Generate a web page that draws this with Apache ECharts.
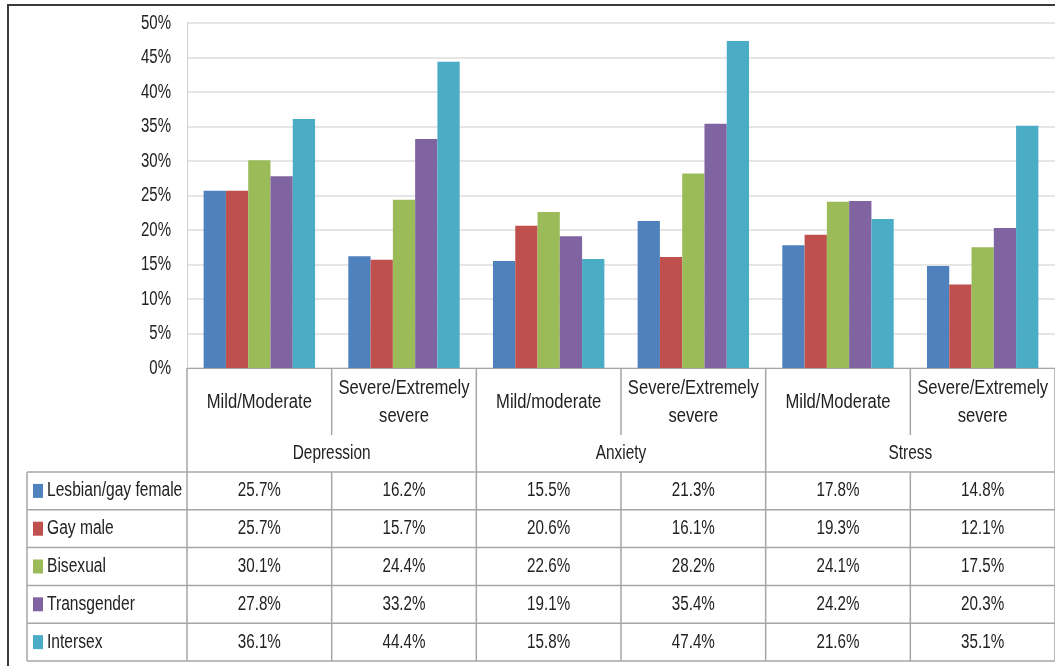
<!DOCTYPE html>
<html><head><meta charset="utf-8">
<script src="https://cdn.jsdelivr.net/npm/echarts@6/dist/echarts.min.js"></script>
<style>html,body{margin:0;padding:0;background:#fff}#c{width:1055px;height:666px}</style>
</head><body><div id="c"></div>
<script>
const categories = ['Mild/Moderate', 'Severe/Extremely\nsevere', 'Mild/moderate', 'Severe/Extremely\nsevere', 'Mild/Moderate', 'Severe/Extremely\nsevere'];
const groups = ['Depression', 'Anxiety', 'Stress'];
const seriesNames = ['Lesbian/gay female', 'Gay male', 'Bisexual', 'Transgender', 'Intersex'];
const lesbianGayFemale = [25.7, 16.2, 15.5, 21.3, 17.8, 14.8];
const gayMale = [25.7, 15.7, 20.6, 16.1, 19.3, 12.1];
const bisexual = [30.1, 24.4, 22.6, 28.2, 24.1, 17.5];
const transgender = [27.8, 33.2, 19.1, 35.4, 24.2, 20.3];
const intersex = [36.1, 44.4, 15.8, 47.4, 21.6, 35.1];
const yTickValues = [0, 5, 10, 15, 20, 25, 30, 35, 40, 45, 50];
const yTickLabels = ['0%', '5%', '10%', '15%', '20%', '25%', '30%', '35%', '40%', '45%', '50%'];

const seriesData = [lesbianGayFemale, gayMale, bisexual, transgender, intersex];
const colors = ['#4F81BD', '#C0504D', '#9BBB59', '#8064A2', '#4BACC6'];
const FONT = '"Liberation Sans", Arial, sans-serif';
const TXT = '#222222';
const LINE = '#a6a6a6';

const chart = echarts.init(document.getElementById('c'), null, {renderer: 'canvas'});
chart.setOption({
  animation: false,
  backgroundColor: '#fff',
  grid: {left: 187, right: 0, top: 23, bottom: 298, containLabel: false},
  xAxis: {
    type: 'category', data: categories,
    axisLine: {lineStyle: {color: LINE}},
    axisTick: {show: false},
    axisLabel: {show: false}
  },
  yAxis: {
    type: 'value', min: 0, max: 50, interval: 5,
    axisLine: {show: true, lineStyle: {color: '#d0d0d0'}},
    axisTick: {show: false},
    splitLine: {lineStyle: {color: '#dcdcdc', width: 1.5}},
    axisLabel: {show: false}
  },
  series: seriesNames.map((n, i) => ({
    name: n, type: 'bar', data: seriesData[i], barGap: '0%', barCategoryGap: '23%',
    itemStyle: {color: colors[i]}
  }))
});

function txt(s, x, y, align, sx) {
  return {type: 'text', x: x, y: y, scaleX: sx, silent: true,
    style: {text: s, font: '20px ' + FONT, fill: TXT, align: align, verticalAlign: 'middle', lineHeight: 28}};
}

const g = [];
const cx = categories.map((c, i) => chart.convertToPixel({xAxisIndex: 0}, i));
const catW = cx[1] - cx[0];
const bounds = [cx[0] - catW / 2];
cx.forEach(x => bounds.push(x + catW / 2));
const yAxis0 = chart.convertToPixel({yAxisIndex: 0}, 0);
const groupRowTop = 435, tableTop = 472, rowH = 37.8;
const tableLeft = 27;
const tableBottom = tableTop + rowH * seriesNames.length;
const ls = {stroke: LINE, lineWidth: 1.5};

// y tick labels from the value axis
yTickValues.forEach((v, i) => {
  g.push(txt(yTickLabels[i], 171, chart.convertToPixel({yAxisIndex: 0}, v), 'right', 0.75));
});
// category labels
categories.forEach((c, i) => {
  g.push(txt(c, cx[i], 402, 'center', 0.83));
});
// vertical lines
bounds.forEach((x, i) => {
  if (i % 2 === 0) {
    g.push({type: 'line', shape: {x1: x, y1: yAxis0, x2: x, y2: tableBottom}, style: ls, silent: true});
  } else {
    g.push({type: 'line', shape: {x1: x, y1: yAxis0, x2: x, y2: groupRowTop}, style: ls, silent: true});
    g.push({type: 'line', shape: {x1: x, y1: tableTop, x2: x, y2: tableBottom}, style: ls, silent: true});
  }
});
g.push({type: 'line', shape: {x1: tableLeft, y1: tableTop, x2: tableLeft, y2: tableBottom}, style: ls, silent: true});
for (let r = 0; r <= seriesNames.length; r++) {
  const y = tableTop + rowH * r;
  g.push({type: 'line', shape: {x1: tableLeft, y1: y, x2: 1055, y2: y}, style: ls, silent: true});
}
// group labels
groups.forEach((name, i) => {
  g.push(txt(name, (bounds[2 * i] + bounds[2 * i + 2]) / 2, 453, 'center', 0.77));
});
// rows
seriesNames.forEach((name, r) => {
  const yc = tableTop + rowH * r + rowH / 2;
  g.push({type: 'rect', shape: {x: 33, y: yc - 7, width: 10, height: 14}, style: {fill: colors[r]}, silent: true});
  g.push(txt(name, 47, yc, 'left', 0.78));
  seriesData[r].forEach((v, c) => {
    g.push(txt(v.toFixed(1) + '%', cx[c], yc, 'center', 0.76));
  });
});
// outer frame
g.push({type: 'line', shape: {x1: 7, y1: 5, x2: 1055, y2: 5}, style: {stroke: '#3a3a3a', lineWidth: 2}, silent: true});
g.push({type: 'line', shape: {x1: 8, y1: 5, x2: 8, y2: 666}, style: {stroke: '#3a3a3a', lineWidth: 2}, silent: true});
chart.setOption({graphic: {elements: g}});
</script></body></html>
